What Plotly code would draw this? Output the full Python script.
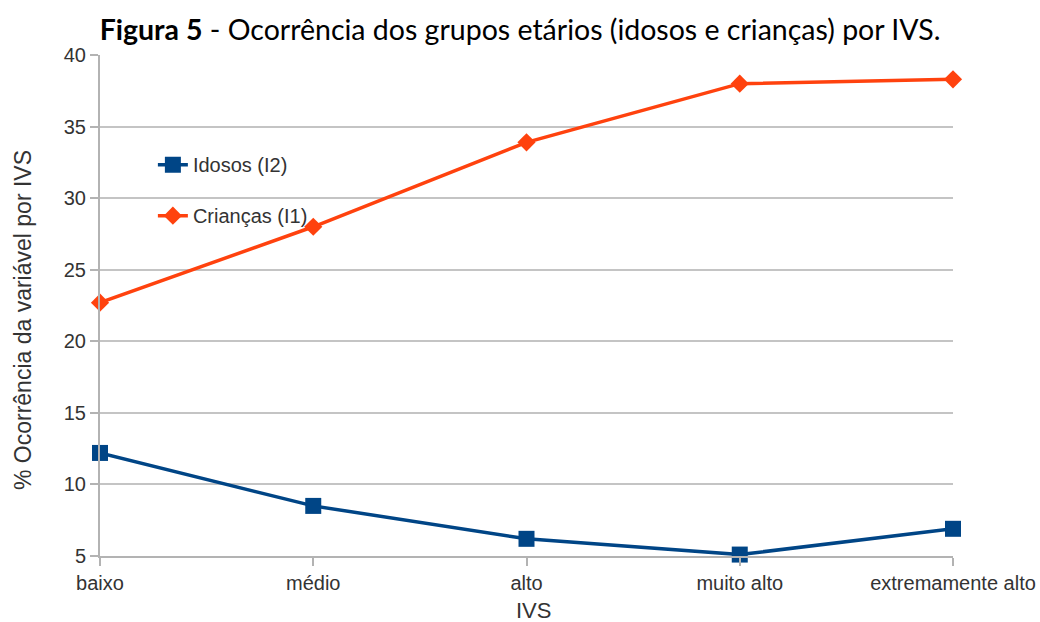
import plotly.graph_objects as go

# IVS categories and % occurrence per age group
categorias = ['baixo', 'médio', 'alto', 'muito alto', 'extremamente alto']
idosos = [12.2, 8.5, 6.2, 5.1, 6.9]
criancas = [22.7, 28.0, 33.9, 38.0, 38.3]

fig = go.Figure()

fig.add_trace(go.Scatter(x=categorias, y=idosos, name='Idosos (I2)',
                         mode='lines+markers', legendgroup='a',
                         line=dict(color='#004586', width=3.5),
                         marker=dict(symbol='square', size=16, color='#004586'),
                         cliponaxis=False))
fig.add_trace(go.Scatter(x=categorias, y=criancas, name='Crianças (I1)',
                         mode='lines+markers', legendgroup='b',
                         line=dict(color='#ff420e', width=3.5),
                         marker=dict(symbol='diamond', size=14, color='#ff420e'),
                         cliponaxis=False))

fig.update_layout(
    width=1040, height=622,
    paper_bgcolor='white', plot_bgcolor='white',
    margin=dict(l=100, r=87, t=55, b=66, autoexpand=False),
    font=dict(family='Liberation Sans, Arial, sans-serif', size=20, color='#333333'),
    title=dict(text='<b>Figura 5</b> - Ocorrência dos grupos etários (idosos e crianças) por IVS.',
               x=0.5, xanchor='center', yref='container', y=1 - 30 / 622, yanchor='middle',
               font=dict(family='Lato, Open Sans, sans-serif', size=28.5, color='black')),
    legend=dict(x=0.062, y=0.82, xanchor='left', yanchor='top',
                bgcolor='rgba(0,0,0,0)', tracegroupgap=22,
                font=dict(size=20, color='#333333')),
)

# axis titles as annotations so they sit where the original has them
fig.add_annotation(text='% Ocorrência da variável por IVS', textangle=-90,
                   xref='paper', yref='paper', x=0, y=0.471, xanchor='center', yanchor='middle',
                   xshift=-77, showarrow=False, font=dict(size=23, color='#333333'))
fig.add_annotation(text='IVS', xref='paper', yref='paper', x=0.5, y=0,
                   xanchor='center', yanchor='middle', xshift=7, yshift=-54,
                   showarrow=False, font=dict(size=22, color='#333333'))

fig.update_xaxes(type='category', range=[0, 4], automargin=False,
                 showgrid=False, showline=True, linecolor='#b3b3b3', linewidth=2,
                 ticks='outside', ticklen=8, tickcolor='#b3b3b3', tickwidth=2)
fig.update_yaxes(range=[5, 40], dtick=5, tick0=5, automargin=False,
                 showgrid=True, gridcolor='#c4c4c4', gridwidth=2,
                 showline=True, linecolor='#b3b3b3', linewidth=2,
                 ticks='outside', ticklen=8, tickcolor='#b3b3b3', tickwidth=2,
                 zeroline=False)

# drop the default body margin so the figure fills the window exactly
fig.write_html('out.html', config={'displayModeBar': False},
               post_script="document.body.style.margin='0';")
